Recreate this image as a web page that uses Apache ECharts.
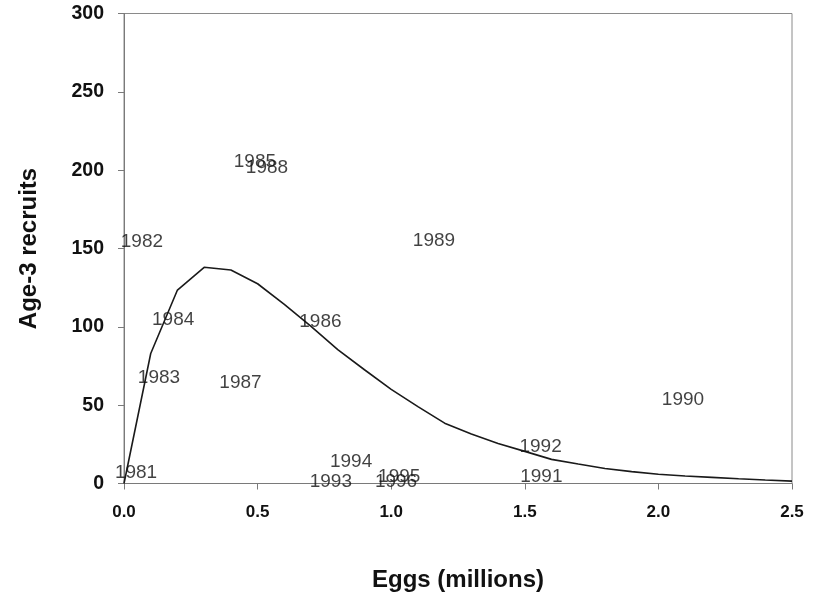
<!DOCTYPE html>
<html>
<head>
<meta charset="utf-8">
<script src="https://cdn.jsdelivr.net/npm/echarts@6/dist/echarts.min.js"></script>
<style>
  html, body { margin: 0; padding: 0; background: #fff; }
  #chart { width: 817px; height: 596px; }
</style>
</head>
<body>
<div id="chart"></div>
<script>
// Observed brood years: egg deposition (millions) and age-3 recruits
var years    = [1981, 1982, 1983, 1984, 1985, 1986, 1987, 1988, 1989, 1990, 1991, 1992, 1993, 1994, 1995, 1996];
var eggs     = [0.045, 0.067, 0.131, 0.184, 0.490, 0.735, 0.436, 0.535, 1.160, 2.092, 1.562, 1.559, 0.774, 0.850, 1.030, 1.018];
var recruits = [6.7, 154, 67.3, 104.4, 205.2, 103, 64.4, 201.4, 155, 53.3, 4.3, 23.5, 1.2, 13.9, 4.3, 1.0];

// Fitted stock-recruitment curve
var curveEggs     = [0.0, 0.1, 0.2, 0.3, 0.4, 0.5, 0.6, 0.7, 0.8, 0.9, 1.0, 1.1, 1.2, 1.3, 1.4, 1.5, 1.6, 1.7, 1.8, 1.9, 2.0, 2.1, 2.2, 2.3, 2.4, 2.5];
var curveRecruits = [0, 83, 123.5, 138, 136.3, 127.5, 114.4, 100.3, 85.4, 72.6, 60.1, 49.1, 38.5, 31.6, 25.6, 20.5, 15.4, 12.4, 9.6, 7.6, 5.9, 4.8, 3.9, 3.0, 2.2, 1.5];

// Axis tick labels
var xTicks = ['0.0', '0.5', '1.0', '1.5', '2.0', '2.5'];
var yTicks = ['0', '50', '100', '150', '200', '250', '300'];

var font = '"Liberation Sans", Arial, sans-serif';

var pointData = years.map(function (y, i) { return [eggs[i], recruits[i], y]; });
var curveData = curveEggs.map(function (e, i) { return [e, curveRecruits[i]]; });

var chart = echarts.init(document.getElementById('chart'), null, { renderer: 'canvas' });
chart.setOption({
  backgroundColor: '#ffffff',
  animation: false,
  grid: {
    left: 124, right: 25, top: 13.5, bottom: 112.5,
    containLabel: false, outerBoundsMode: 'none',
    show: true, borderColor: '#8a8a8a', borderWidth: 1, backgroundColor: 'transparent'
  },
  xAxis: {
    type: 'value', min: 0, max: 2.5, interval: 0.5,
    name: 'Eggs (millions)', nameLocation: 'middle', nameGap: 85,
    nameTextStyle: { fontFamily: font, fontWeight: 'bold', fontSize: 24, color: '#111111' },
    axisLine: { show: true, lineStyle: { color: '#7a7a7a', width: 1 } },
    axisTick: { show: true, inside: false, length: 6, lineStyle: { color: '#7a7a7a' } },
    axisLabel: {
      margin: 20, fontFamily: font, fontWeight: 'bold', fontSize: 17, color: '#111111',
      formatter: function (v) { return xTicks[Math.round(v / 0.5)]; }
    },
    splitLine: { show: false }
  },
  yAxis: {
    type: 'value', min: 0, max: 300, interval: 50,
    name: 'Age-3 recruits', nameLocation: 'middle', nameGap: 83, nameRotate: 90,
    nameTextStyle: { fontFamily: font, fontWeight: 'bold', fontSize: 24, color: '#111111' },
    axisLine: { show: true, lineStyle: { color: '#7a7a7a', width: 1 } },
    axisTick: { show: true, inside: false, length: 6, lineStyle: { color: '#7a7a7a' } },
    axisLabel: {
      margin: 20, fontFamily: font, fontWeight: 'bold', fontSize: 19.5, color: '#111111',
      formatter: function (v) { return yTicks[Math.round(v / 50)]; }
    },
    splitLine: { show: false }
  },
  series: [
    {
      type: 'line',
      data: curveData,
      showSymbol: false,
      symbol: 'none',
      lineStyle: { color: '#1a1a1a', width: 1.6 },
      z: 3
    },
    {
      type: 'scatter',
      data: pointData,
      symbolSize: 1,
      itemStyle: { color: 'rgba(0,0,0,0)' },
      label: {
        show: true, position: 'inside',
        fontFamily: font, fontSize: 19, color: '#111111',
        formatter: function (p) { return String(p.value[2]); }
      },
      labelLayout: { hideOverlap: false },
      z: 4
    }
  ]
});
</script>
</body>
</html>
